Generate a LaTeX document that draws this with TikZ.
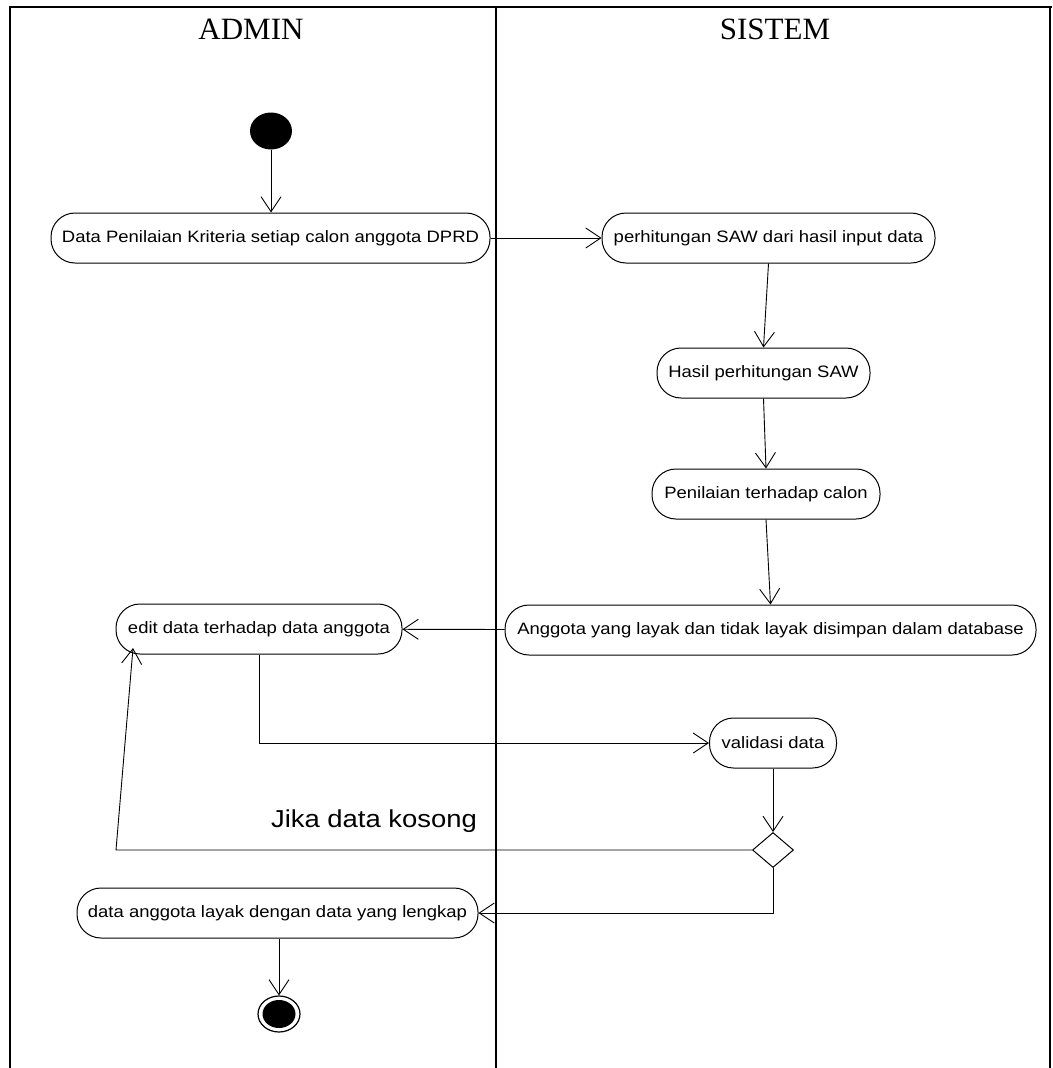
\documentclass[tikz,border=0pt]{standalone}
\usepackage{fontspec}
\setmainfont{Liberation Serif}
\newfontfamily\nf[FakeStretch=1.12]{Liberation Sans}
\usetikzlibrary{arrows.meta,shapes.geometric}
\begin{document}
\begin{tikzpicture}[x=1pt,y=-1pt,
  act/.style={draw,line width=1pt,rounded corners=24pt,minimum height=50pt,inner sep=0pt,font=\nf\fontsize{16.5}{20}\selectfont},
  flow/.style={draw,line width=0.9pt,-{Straight Barb[length=15pt,width=20pt,line width=0.9pt]}},
  lane/.style={line width=2.5pt},
  head/.style={font=\fontsize{31}{36}\selectfont,anchor=base,inner sep=0pt}]
\useasboundingbox (0,0) rectangle (1052,1068);
% swimlanes
\draw[lane] (8.75,7) -- (1052,7);
\draw[lane] (10,7) -- (10,1068);
\draw[lane] (496,7) -- (496,1068);
\draw[lane] (1050,7) -- (1050,1068);
\node[head] (hA) at (251,39) {ADMIN};
\node[head] (hS) at (775,39) {SISTEM};
% nodes
\node[ellipse,fill=black,minimum width=42pt,minimum height=37pt,inner sep=0pt] (start) at (271,131) {};
\node[act,minimum width=439pt] (n1) at (270.5,238) {Data Penilaian Kriteria setiap calon anggota DPRD};
\node[act,minimum width=333pt] (n2) at (768.5,238) {perhitungan SAW dari hasil input data};
\node[act,minimum width=213pt] (n3) at (763.5,373) {Hasil perhitungan SAW};
\node[act,minimum width=228pt] (n4) at (766,494) {Penilaian terhadap calon};
\node[act,minimum width=531pt] (n5) at (770.5,630) {Anggota yang layak dan tidak layak disimpan dalam database};
\node[act,minimum width=286pt] (n6) at (259,629) {edit data terhadap data anggota};
\node[act,minimum width=127pt] (n7) at (773,743) {validasi data};
\node[diamond,draw,line width=1pt,minimum width=41pt,minimum height=35pt,inner sep=0pt] (dec) at (773,850) {};
\node[act,minimum width=401pt] (n8) at (277.5,913) {data anggota layak dengan data yang lengkap};
\node[ellipse,draw,line width=1.2pt,minimum width=42pt,minimum height=36pt,inner sep=0pt] (end) at (279,1014) {};
\node[ellipse,fill=black,minimum width=33pt,minimum height=28pt,inner sep=0pt] (endin) at (279,1014) {};
\node[font=\nf\fontsize{24.5}{28}\selectfont,anchor=base,inner sep=0pt] (lbl) at (374,827) {Jika data kosong};
\coordinate (bend) at (116,850);
\coordinate (tgt) at (133,648);
% flows
\draw[flow] (start) -- (start |- n1.north);
\draw[flow] (n1) -- (n2);
\draw[flow] (n2.south) -- (n3.north);
\draw[flow] (n3.south) -- (n4.north);
\draw[flow] (n4.south) -- (n5.north);
\draw[flow] (n5) -- (n6);
\draw[flow] (n6.south) |- (n7);
\draw[flow] (n7) -- (dec);
\draw[flow] (dec.west) -- (bend) -- (tgt);
\draw[flow] (dec.south) |- (n8);
\draw[flow] (end |- n8.south) -- (end);
\end{tikzpicture}
\end{document}
